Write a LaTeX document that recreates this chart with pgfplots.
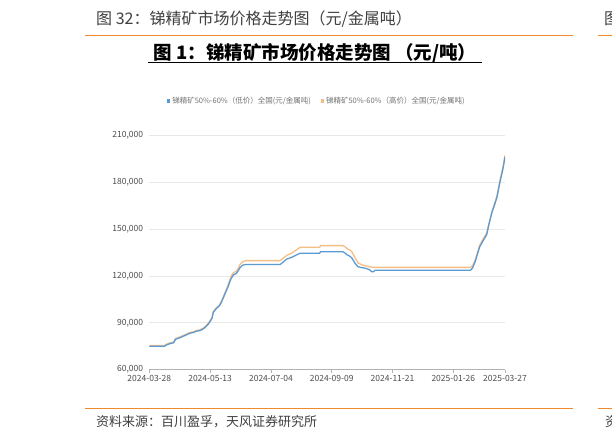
\documentclass[border=0pt]{standalone}
\usepackage{fontspec}
\setmainfont{Noto Sans CJK SC}
\usepackage{pgfplots}
\pgfplotsset{compat=1.18}
\definecolor{lowblue}{HTML}{5B9BD5}
\definecolor{highorange}{HTML}{F5BE86}
\definecolor{frameorange}{HTML}{F08A2C}
\definecolor{titlegray}{HTML}{404040}
\definecolor{labelgray}{HTML}{4D4D4D}
\begin{document}
\begin{tikzpicture}[x=1pt,y=1pt]
\path[use as bounding box, fill=white] (0,0) rectangle (612,447);
% header and footer
\node[anchor=west, inner sep=0pt, text=titlegray, font=\fontsize{16}{18}\selectfont] at (96,428) {图 32：锑精矿市场价格走势图（元/金属吨）};
\node[anchor=west, inner sep=0pt, text=titlegray, font=\fontsize{16}{18}\selectfont] at (604,428) {图};
\draw[frameorange, line width=1.6pt] (85,411.5) -- (573,411.5);
\draw[frameorange, line width=1.6pt] (598,411.5) -- (612,411.5);
\draw[frameorange, line width=1.6pt] (85,38.5) -- (573,38.5);
\draw[frameorange, line width=1.6pt] (598,38.5) -- (612,38.5);
\node[anchor=west, inner sep=0pt, text=titlegray, font=\fontsize{13}{15}\selectfont] at (96,25) {资料来源：百川盈孚，天风证券研究所};
\node[anchor=west, inner sep=0pt, text=titlegray, font=\fontsize{13}{15}\selectfont] at (605,25) {资};
% chart title
\node[anchor=center, inner sep=0pt, font=\bfseries\fontsize{18.5}{20}\selectfont] at (315,394) {图 1：锑精矿市场价格走势图 （元/吨）};
\draw[black, line width=0.9pt] (148,384.5) -- (482,384.5);
\begin{axis}[
  at={(149.3pt,77.3pt)}, anchor=south west,
  scale only axis, width=355.7pt, height=234.7pt,
  xmin=0, xmax=351, ymin=60000, ymax=210000,
  xtick={0,60,120,180,240,300,351},
  xticklabels={2024-03-28,2024-05-13,2024-07-04,2024-09-09,2024-11-21,2025-01-26,2025-03-27},
  ytick={60000,90000,120000,150000,180000,210000},
  scaled y ticks=false,
  /pgf/number format/.cd, fixed, 1000 sep={,}, assume math mode=true,
  /pgfplots/.cd,
  axis x line*=bottom, axis y line*=left,
  x axis line style={draw=black!30, line width=0.7pt},
  y axis line style={draw=none},
  ytick style={draw=none},
  xtick style={draw=black!30, line width=0.7pt},
  tick align=outside, major tick length=3pt,
  ymajorgrids, major grid style={draw=black!9, line width=0.6pt},
  ticklabel style={font=\fontsize{8.5}{9}\selectfont, text=labelgray},
  yticklabel style={anchor=east, inner sep=0pt, xshift=-3pt},
  xticklabel style={inner sep=0pt, yshift=-2pt},
  legend style={at={(0.471,1.145)}, anchor=center, draw=none, fill=none,
    legend columns=2, font=\fontsize{7.5}{8}\selectfont, text=black!55,
    /tikz/every even column/.append style={column sep=8pt}},
  legend cell align=left,
  legend image code/.code={\fill[#1] (0pt,-1.6pt) rectangle (3.2pt,1.6pt);},
]
\addlegendimage{fill=lowblue, draw=none}
\addlegendentry{锑精矿50\%-60\%（低价）全国(元/金属吨)}
\addlegendimage{fill=highorange, draw=none}
\addlegendentry{锑精矿50\%-60\%（高价）全国(元/金属吨)}
\addplot[forget plot, highorange, line width=1.3pt] coordinates {
(0,75500) (15,75500) (17,76300) (20,77100) (24,77700) (26,80000) (30,80900)
(35,82300) (40,83800) (44,84300) (46,85000) (50,85500) (53,86500) (55,87500)
(58,89500) (60,91300) (62,93500) (63,97000) (66,99500) (69,101200) (71,103500)
(73,106500) (75,109600) (76.5,112000) (78,114500) (79.5,117500) (81,120000)
(83,122000) (86,123000) (88,125000) (89.5,127200) (92,128800) (95,129700)
(129,129700) (131,130700) (135.6,133000) (140.5,134500) (145,136500) (148.7,138200)
(168,138200) (169,139300) (191,139300) (193,138600) (195,137500) (198,136500)
(200,135200) (203,131500) (206,128200) (210,127000) (213,126500) (217,125800)
(221,125400) (317,125400) (319,126500) (321.5,130000) (326,139500) (329,143000)
(333,147500) (334.5,152000) (338,160500) (340,165000) (343,171000) (346,181000)
(349,189500) (351,197000)
};
\addplot[forget plot, lowblue, line width=1.3pt] coordinates {
(0,75000) (15,75000) (17,75800) (20,76600) (24,77200) (26,79500) (30,80400)
(35,81800) (40,83300) (44,83800) (46,84500) (50,85000) (53,86000) (55,87000)
(58,89000) (60,90800) (62,93000) (63,96500) (66,99000) (69,100700) (71,103000)
(73,105900) (75,109000) (76.5,111200) (78,113500) (79.5,116400) (81,118500)
(83,120600) (86,121600) (88,123500) (89.5,125200) (92,126800) (95,127200)
(129,127200) (131,128200) (135.6,130700) (140.5,131800) (145,133300) (148.7,134400)
(168,134400) (169,135400) (191,135400) (193,134600) (195,133500) (198,132500)
(200,131300) (203,128000) (206,125800) (210,125200) (213,124900) (217,124000)
(219.5,122600) (221,122600) (223,123600) (317,123600) (319,125000) (321.5,129000)
(326,138500) (329,142000) (333,146400) (334.5,151000) (338,160500) (340,164000)
(343,170000) (346,180000) (349,188400) (351,196000)
};
\end{axis}
\end{tikzpicture}
\end{document}
